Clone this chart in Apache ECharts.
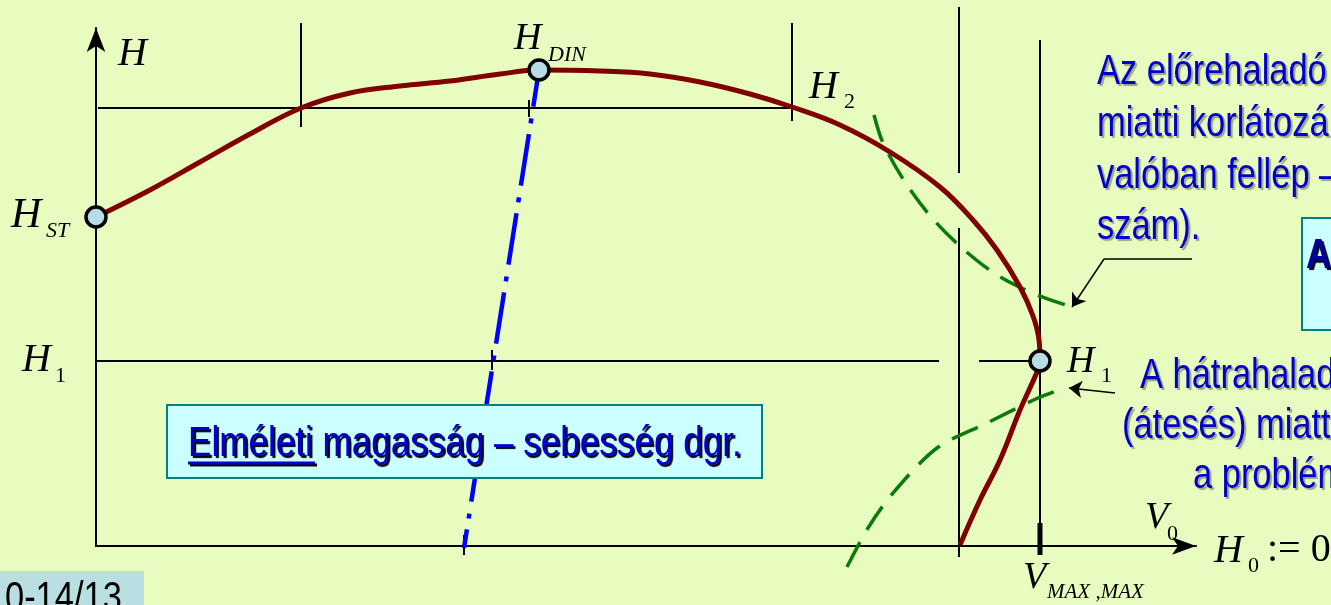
<!DOCTYPE html>
<html>
<head>
<meta charset="utf-8">
<script src="https://cdn.jsdelivr.net/npm/echarts@6/dist/echarts.min.js"></script>
<style>
  html, body { margin: 0; padding: 0; background: #e8fcc0; }
  #chart { width: 1331px; height: 605px; }
</style>
</head>
<body>
<div id="chart"></div>
<script>
// diagram units: 1 unit = 1px, origin at the corner of the V-H axes

// theoretical head - speed curve (H_ST -> H_DIN -> H_1 -> back to V axis)
var headCurve = [[0,329],[54,356],[104,384],[154,412],[205,438],[254,453],[304,460],[354,465],[404,472],[443,476],
  [504,475],[554,472],[604,464],[654,452],[696,439],[744,421],[794,394],[844,359],[877,326],[901,296],
  [924,259],[937,230],[943,206],[944,185],[941,174],[924,136],[904,86],[884,46],[864,1]];

// H_DIN dash-dot line
var dinLine = [[443,476],[368,-2]];

// green limit curves
var forwardLimit = [[778,431],[787,403],[809,364],[836,328],[866,298],[901,271],[941,251],[976,239]];
var backwardLimit = [[751,-21],[772,18],[797,53],[841,98],[891,123],[942,148],[971,159]];

// marked points: H_ST, H_DIN, H_1
var markedPoints = [[0,329],[443,476],[944,185]];

// thin black guide lines
var guideLines = [
  [[2,438],[696,438]],
  [[0,185],[843,185]],
  [[883,185],[944,185]],
  [[205,523],[205,419]],
  [[696,523],[696,425]],
  [[433,446],[433,429]],
  [[396,196],[396,176]],
  [[368,11],[368,-9]],
  [[863,539],[863,373]],
  [[863,318],[863,-11]],
  [[944,506],[944,0]]
];
var vmaxTick = [[944,23],[944,-9]];

// pointer arrows
var arrowBends = [[1096,287],[1008,287]];
var arrowHeads = [
  [[1008,287],[976,239]],
  [[1019,153],[973,158]]
];

function seg(points, style, z) {
  return { type: 'line', data: points, symbol: 'none', silent: true, clip: false,
           smooth: false, lineStyle: style, z: z || 2 };
}

var series = [];
guideLines.forEach(function (g) { series.push(seg(g, { color: '#000', width: 2 }, 2)); });
series.push(seg(vmaxTick, { color: '#000', width: 5 }, 3));
series.push(seg(arrowBends, { color: '#000', width: 1.5 }, 3));
series.push({ type: 'lines', coordinateSystem: 'cartesian2d', silent: true, z: 3,
  symbol: ['none', 'arrow'], symbolSize: 13,
  lineStyle: { color: '#000', width: 1.5, opacity: 1 },
  data: arrowHeads.map(function (c) { return { coords: c }; }) });
series.push(Object.assign(seg(forwardLimit, { color: '#0a7a0a', width: 3.5, type: [28, 14] }, 4), { smooth: 0.3 }));
series.push(Object.assign(seg(backwardLimit, { color: '#0a7a0a', width: 3.5, type: [28, 14] }, 4), { smooth: 0.3 }));
series.push(seg(dinLine, { color: '#0000ff', width: 4.5, type: [52, 12, 5, 11], dashOffset: 15 }, 5));
series.push(Object.assign(seg(headCurve, { color: '#800000', width: 5 }, 6), { smooth: 0.4 }));
series.push({ type: 'scatter', data: markedPoints, symbolSize: 20, silent: true, z: 10,
  itemStyle: { color: '#b8dce4', borderColor: '#000', borderWidth: 3.5, opacity: 1 } });

var SERIF = '"Liberation Serif", "Times New Roman", serif';
var SANS = '"Liberation Sans", Arial, sans-serif';

function t(text, x, y, font) {
  return { type: 'text', x: x, y: y, z: 60,
    style: { text: text, font: font, fill: '#000', verticalAlign: 'middle' } };
}
function b(text, x, y, opt) {
  opt = opt || {};
  var sh = opt.shadow || 'rgba(60,60,60,0.45)';
  return { type: 'text', x: x, y: y, z: 60, scaleX: opt.sx || 0.82,
    style: { text: text, font: (opt.weight || '') + ' 42px ' + SANS, fill: opt.fill || '#0000cc',
      verticalAlign: 'middle',
      shadowColor: sh, shadowOffsetX: 2, shadowOffsetY: 2, shadowBlur: 1,
      textShadowColor: sh, textShadowOffsetX: 2, textShadowOffsetY: 2, textShadowBlur: 1 } };
}

var graphic = [
  { type: 'rect', z: 50, shape: { x: 167, y: 405, width: 595, height: 73 },
    style: { fill: '#ccffff', stroke: '#008080', lineWidth: 2 } },
  { type: 'rect', z: 50, shape: { x: 1302, y: 218, width: 40, height: 112 },
    style: { fill: '#ccffff', stroke: '#008080', lineWidth: 2 } },
  { type: 'rect', z: 50, shape: { x: 0, y: 571, width: 144, height: 40 },
    style: { fill: '#b9dfe2' } },
  b('Elméleti magasság – sebesség dgr.', 188, 444, { shadow: '#000', sx: 0.835 }),
  { type: 'line', z: 59, shape: { x1: 190, y1: 465, x2: 317, y2: 465 }, style: { stroke: '#000', lineWidth: 3 } },
  { type: 'line', z: 61, shape: { x1: 188, y1: 463, x2: 315, y2: 463 }, style: { stroke: '#0000cc', lineWidth: 3 } },
  b('A', 1306, 256, { weight: 'bold', fill: '#000099', shadow: '#000' }),
  b('Az előrehaladó', 1097, 72),
  b('miatti korlátozá', 1097, 124),
  b('valóban fellép –', 1097, 176),
  b('szám).', 1097, 227),
  b('A hátrahalad', 1140, 376),
  b('(átesés) miatt', 1122, 426),
  b('a problém', 1193, 476),
  { type: 'text', x: 5, y: 599, z: 60, scaleX: 0.82,
    style: { text: '0-14/13', font: '42px ' + SANS, fill: '#000', verticalAlign: 'middle' } },

  t('H', 118, 54, 'italic 40px ' + SERIF),
  t('H', 11, 216, 'italic 42px ' + SERIF), t('ST', 46, 231, 'italic 22px ' + SERIF),
  t('H', 514, 39, 'italic 38px ' + SERIF), t('DIN', 548, 55, 'italic 22px ' + SERIF),
  t('H', 809, 87, 'italic 40px ' + SERIF), t('2', 844, 102, '22px ' + SERIF),
  t('H', 22, 360, 'italic 40px ' + SERIF), t('1', 55, 376, '22px ' + SERIF),
  t('H', 1067, 362, 'italic 38px ' + SERIF), t('1', 1101, 376, '22px ' + SERIF),
  t('V', 1145, 518, 'italic 38px ' + SERIF), t('0', 1167, 534, '22px ' + SERIF),
  t('H', 1214, 551, 'italic 40px ' + SERIF), t('0', 1248, 566, '22px ' + SERIF),
  t(':= 0', 1267, 550, '40px ' + SERIF),
  t('V', 1023, 578, 'italic 38px ' + SERIF), t('MAX ,MAX', 1047, 592, 'italic 21px ' + SERIF)
];

var myChart = echarts.init(document.getElementById('chart'));
myChart.setOption({
  animation: false,
  backgroundColor: '#e8fcc0',
  grid: { left: 96, right: 135, top: 28, bottom: 59 },
  xAxis: {
    type: 'value', min: 0, max: 1100,
    axisLine: { show: true, onZero: false, symbol: ['none', 'arrow'], symbolSize: [13, 24],
      lineStyle: { color: '#000', width: 2 } },
    axisTick: { show: false }, axisLabel: { show: false }, splitLine: { show: false }
  },
  yAxis: {
    type: 'value', min: 0, max: 518,
    axisLine: { show: true, onZero: false, symbol: ['none', 'arrow'], symbolSize: [14, 24],
      lineStyle: { color: '#000', width: 2 } },
    axisTick: { show: false }, axisLabel: { show: false }, splitLine: { show: false }
  },
  series: series,
  graphic: graphic
});
</script>
</body>
</html>
